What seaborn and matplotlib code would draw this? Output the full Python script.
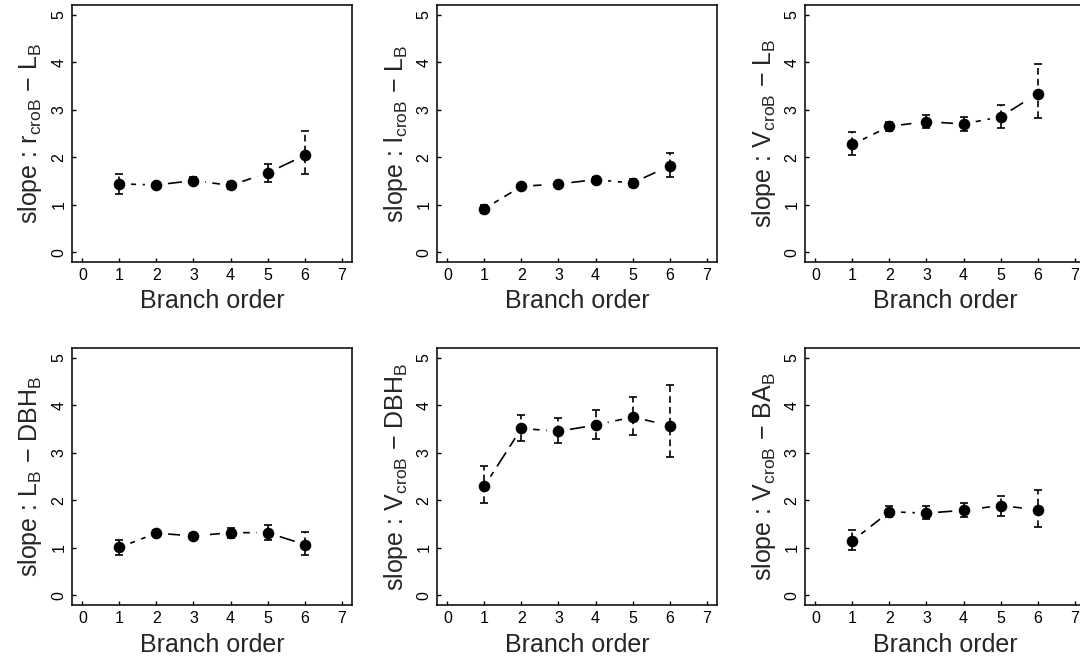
import numpy as np
import pandas as pd
import matplotlib
matplotlib.use("Agg")
import matplotlib.pyplot as plt
import seaborn as sns

# branch order on the x axis
orders = [1, 2, 3, 4, 5, 6]

# panel labels (mathtext)
ylabels = [
    r"slope : r$_{\mathrm{croB}}$ $-$ L$_{\mathrm{B}}$",
    r"slope : l$_{\mathrm{croB}}$ $-$ L$_{\mathrm{B}}$",
    r"slope : V$_{\mathrm{croB}}$ $-$ L$_{\mathrm{B}}$",
    r"slope : L$_{\mathrm{B}}$ $-$ DBH$_{\mathrm{B}}$",
    r"slope : V$_{\mathrm{croB}}$ $-$ DBH$_{\mathrm{B}}$",
    r"slope : V$_{\mathrm{croB}}$ $-$ BA$_{\mathrm{B}}$",
]

# slope estimates with lower / upper confidence limits
r_lb = [1.44, 1.42, 1.51, 1.41, 1.67, 2.04]
r_lb_lo = [1.23, 1.37, 1.44, 1.33, 1.49, 1.65]
r_lb_hi = [1.65, 1.47, 1.58, 1.49, 1.85, 2.56]

l_lb = [0.92, 1.39, 1.44, 1.53, 1.46, 1.82]
l_lb_lo = [0.84, 1.35, 1.39, 1.48, 1.38, 1.58]
l_lb_hi = [1.00, 1.43, 1.49, 1.58, 1.54, 2.10]

v_lb = [2.27, 2.65, 2.75, 2.70, 2.85, 3.34]
v_lb_lo = [2.04, 2.55, 2.62, 2.56, 2.62, 2.82]
v_lb_hi = [2.54, 2.75, 2.88, 2.85, 3.09, 3.97]

lb_dbh = [1.01, 1.31, 1.25, 1.32, 1.32, 1.07]
lb_dbh_lo = [0.86, 1.24, 1.19, 1.21, 1.16, 0.85]
lb_dbh_hi = [1.17, 1.38, 1.31, 1.42, 1.48, 1.34]

v_dbh = [2.30, 3.51, 3.45, 3.58, 3.75, 3.57]
v_dbh_lo = [1.94, 3.25, 3.20, 3.29, 3.38, 2.90]
v_dbh_hi = [2.73, 3.79, 3.72, 3.89, 4.17, 4.42]

v_ba = [1.15, 1.76, 1.73, 1.79, 1.89, 1.80]
v_ba_lo = [0.96, 1.64, 1.60, 1.65, 1.68, 1.44]
v_ba_hi = [1.37, 1.89, 1.87, 1.94, 2.10, 2.22]

series = [
    (r_lb, r_lb_lo, r_lb_hi),
    (l_lb, l_lb_lo, l_lb_hi),
    (v_lb, v_lb_lo, v_lb_hi),
    (lb_dbh, lb_dbh_lo, lb_dbh_hi),
    (v_dbh, v_dbh_lo, v_dbh_hi),
    (v_ba, v_ba_lo, v_ba_hi),
]

sns.set_style("ticks")
plt.rcParams["font.family"] = ["Liberation Sans", "DejaVu Sans"]
plt.rcParams["mathtext.fontset"] = "custom"
plt.rcParams["mathtext.rm"] = "Liberation Sans"
plt.rcParams["mathtext.default"] = "regular"

W, H = 1080, 663
fig = plt.figure(figsize=(W / 100, H / 100), dpi=100)

lefts = [72, 437, 805]
tops = [5, 348]
pw, ph = 280, 257

for i, (est, lo, hi) in enumerate(series):
    row, col = divmod(i, 3)
    ax = fig.add_axes([lefts[col] / W, (H - tops[row] - ph) / H, pw / W, ph / H])
    df = pd.DataFrame({"order": orders, "slope": est})

    # dashed connecting line, with gaps around the points (like R type="b")
    sns.lineplot(data=df, x="order", y="slope", ax=ax, color="black",
                 linewidth=1.2, linestyle=(0, (10, 4)), zorder=1)
    sns.scatterplot(data=df, x="order", y="slope", ax=ax, color="white",
                    s=280, linewidth=0, zorder=2)

    est = np.array(est)
    yerr = [est - np.array(lo), np.array(hi) - est]
    eb = ax.errorbar(orders, est, yerr=yerr, fmt="none", ecolor="black",
                     elinewidth=1.2, capsize=3, capthick=1.2, zorder=3)
    eb[2][0].set_linestyle((0, (4, 2.5)))

    sns.scatterplot(data=df, x="order", y="slope", ax=ax, color="black",
                    s=70, linewidth=0, zorder=4)

    ax.set_xlim(-0.28, 7.28)
    ax.set_ylim(-0.2, 5.2)
    ax.set_xticks(range(0, 8))
    ax.set_yticks(range(0, 6))
    ax.tick_params(direction="in", length=3, width=1, labelsize=11.5,
                   colors="black")
    ax.tick_params(axis="x", pad=4)
    ax.tick_params(axis="y", pad=4)
    for t in ax.get_yticklabels():
        t.set_rotation(90)
        t.set_va("center")
    for s in ax.spines.values():
        s.set_visible(True)
        s.set_linewidth(1.1)
        s.set_color("black")
    ax.set_xlabel("Branch order", fontsize=18, labelpad=5)
    ax.set_ylabel(ylabels[i], fontsize=18, labelpad=5)

fig.savefig("out.png", dpi=100)
